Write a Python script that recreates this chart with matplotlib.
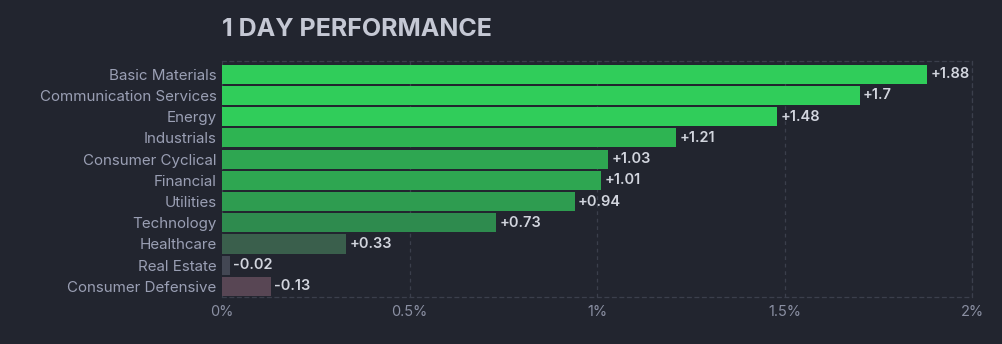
import matplotlib
matplotlib.use("Agg")
import matplotlib.pyplot as plt

# sector performance over one day, in percent
sectors = ["Basic Materials", "Communication Services", "Energy", "Industrials",
           "Consumer Cyclical", "Financial", "Utilities", "Technology",
           "Healthcare", "Real Estate", "Consumer Defensive"]
changes = [1.88, 1.7, 1.48, 1.21, 1.03, 1.01, 0.94, 0.73, 0.33, -0.02, -0.13]
bar_colors = ["#30cd5a", "#30cd5a", "#30cd5a", "#2eb452", "#2ea651", "#2ea651",
              "#2e9c50", "#2e8b4e", "#3a5f4c", "#434753", "#584654"]
xticks = [0, 0.5, 1, 1.5, 2]
xtick_labels = ["0%", "0.5%", "1%", "1.5%", "2%"]

BG = "#22252f"
GRID = "#3b3f4c"

plt.rcParams["font.family"] = ["Inter", "DejaVu Sans"]

fig = plt.figure(figsize=(10.02, 3.44), dpi=100, facecolor=BG)
ax = fig.add_axes([0.2216, 0.1366, 0.7485, 0.686], facecolor=BG)

ypos = list(range(len(sectors)))
widths = [abs(v) for v in changes]
ax.barh(ypos, widths, height=0.9, color=bar_colors, zorder=3)

for y, v in zip(ypos, changes):
    label = f"+{v:g}" if v > 0 else f"{v:g}"
    ax.annotate(label, (abs(v), y), xytext=(2.5, 0), textcoords="offset points",
                va="center", ha="left", fontsize=10.5, fontweight="semibold",
                color="#d2d5de", zorder=4)

ax.set_xlim(0, 2)
ax.set_ylim(10.5, -0.62)
ax.set_xticks(xticks)
ax.set_xticklabels(xtick_labels)
ax.set_yticks(ypos)
ax.set_yticklabels(sectors)
ax.tick_params(axis="x", length=0, pad=6, labelsize=10.5, labelcolor="#8a8fa2")
ax.tick_params(axis="y", length=0, pad=4, labelsize=10.9, labelcolor="#9a9fb4")

ax.grid(axis="x", color=GRID, linestyle=(0, (3, 3)), linewidth=0.9, zorder=0)
for side in ["top", "bottom", "right"]:
    ax.spines[side].set_color(GRID)
    ax.spines[side].set_linestyle((0, (3, 3)))
    ax.spines[side].set_linewidth(0.9)
ax.spines["left"].set_visible(False)

fig.text(0.2216, 0.915, "1 DAY PERFORMANCE", fontsize=18, fontweight="bold",
         color="#c5c8d4", ha="left", va="center")

fig.savefig("out.png", dpi=100, facecolor=BG)
